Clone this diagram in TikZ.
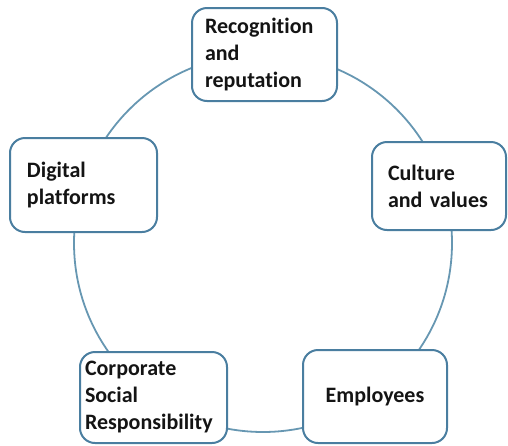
\documentclass[tikz,border=0pt]{standalone}
\usepackage{fontspec}
\setmainfont{Carlito}[Ligatures=NoCommon]
\usepackage{xcolor}

\definecolor{boxline}{HTML}{4A7EA0}
\definecolor{ringline}{HTML}{6797B2}
\definecolor{labeltext}{HTML}{141414}

\tikzset{
  stage/.style={draw=boxline, line width=2pt, rounded corners=15pt, fill=white,
    text=labeltext, align=left, minimum height=92pt,
    font=\fontsize{22}{27}\selectfont\bfseries},
  ring/.style={draw=ringline, line width=1.8pt}
}

\begin{document}
\begin{tikzpicture}[x=1pt,y=-1pt]

\useasboundingbox (0,0) rectangle (508,445);

% Ring behind the five boxes
\coordinate (hub) at (263,243);
\draw[ring] (hub) circle[radius=189pt];

% Top box
\node[stage, text width=119pt, inner xsep=13pt, minimum height=93pt] (recog) at (264.5,54.5)
  {Recognition\\and\\reputation};

% Right box
\node[stage, text width=102pt, inner xsep=16pt, minimum height=88pt] (culture) at (439,186)
  {Culture\\and values};

% Left box
\node[stage, text width=113pt, inner xsep=17pt, minimum height=94pt] (digital) at (83.5,185)
  {Digital\\platforms};

% Bottom left box
\node[stage, text width=137pt, inner xsep=5pt, minimum height=91pt] (csr) at (153.5,397.5)
  {Corporate\\Social\\Responsibility};

% Bottom right box
\node[stage, align=center, text width=110pt, inner xsep=17pt, minimum height=93pt] (staff) at (375,396.5)
  {Employees};

\end{tikzpicture}
\end{document}
